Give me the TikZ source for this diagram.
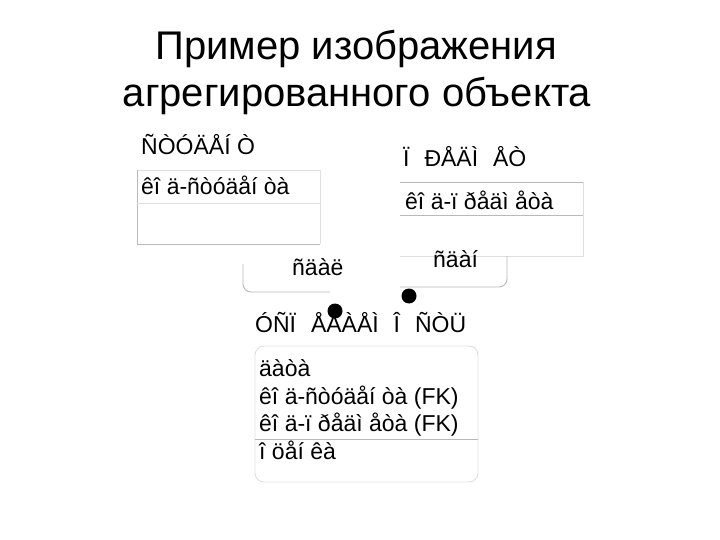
\documentclass[tikz,border=0pt]{standalone}
\usepackage{fontspec}
\setmainfont{Liberation Sans}
\newcommand\wgap{\hspace{0.65em}}

\begin{document}
\begin{tikzpicture}[x=1pt, y=-1pt,
    txt/.style = {anchor=base west, inner sep=0pt, font=\fontsize{23}{27}\selectfont},
    edge/.style = {draw=gray!55, line width=0.9pt},
    faint/.style = {draw=gray!25, line width=0.9pt},
    dot/.style = {circle, fill=black, inner sep=0pt, minimum size=15pt}]
    \useasboundingbox (0,0) rectangle (720,540);

    % title
    \node[anchor=base, inner sep=0pt, font=\fontsize{40}{48}\selectfont] (t1) at (356,60) {Пример изображения};
    \node[anchor=base, inner sep=0pt, font=\fontsize{40}{48}\selectfont] (t2) at (357,107) {агрегированного объекта};

    % student
    \node[txt] (stud) at (141,155) {ÑÒÓÄÅÍ Ò};
    \draw[faint] (137,170) -- (320,170) -- (320,244);
    \draw[edge] (137,170) -- (137,244) -- (320,244);
    \draw[faint] (137,203) -- (320,203);
    \node[txt] (studk) at (141,195) {êî ä-ñòóäåí òà};

    % subject
    \node[txt] (subj) at (403,167) {Ï\wgap ÐÅÄÌ\wgap ÅÒ};
    \draw[edge] (400,182) -- (583,182);
    \draw[faint] (583,182) -- (583,256) -- (400,256);
    \draw[edge] (400,215) -- (583,215);
    \node[txt] (subjk) at (405,210) {êî ä-ï ðåäì åòà};

    % relationships
    \node[txt] (sdal) at (292,275) {ñäàë};
    \draw[edge, rounded corners=8pt] (243,264) -- (243,292) -- (330,292);
    \node[txt] (sdan) at (433,267) {ñäàí};
    \draw[edge, rounded corners=8pt] (400,287) -- (507,287) -- (507,256);

    % progress
    \node[txt] (usp) at (255,332) {ÓÑÏ\wgap ÅÂÀÅÌ\wgap Î\wgap ÑÒÜ};
    \draw[faint, rounded corners=9pt] (255,346) rectangle (478,482);
    \draw[edge] (255,439) -- (478,439);
    \node[txt] (a1) at (259,376) {äàòà};
    \node[txt] (a2) at (259,404) {êî ä-ñòóäåí òà (FK)};
    \node[txt] (a3) at (259,431) {êî ä-ï ðåäì åòà (FK)};
    \node[txt] (a4) at (259,459) {î öåí êà};

    \node[dot] (d1) at (335,311) {};
    \node[dot] (d2) at (409,296) {};
\end{tikzpicture}
\end{document}
